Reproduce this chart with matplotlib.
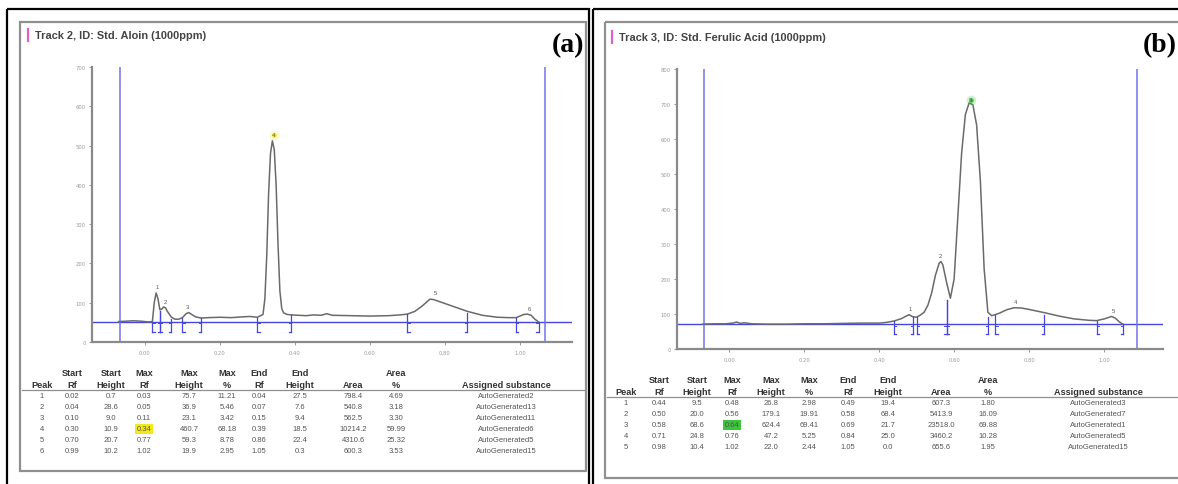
import matplotlib.pyplot as plt
from matplotlib.patches import Rectangle

W, H = 1178, 485

# ---------------- panel (a): Std. Aloin ----------------
a_title = "Track 2, ID: Std. Aloin (1000ppm)"
a_rf = [-0.07, -0.05, -0.03, -0.01, 0.00, 0.01, 0.02, 0.025, 0.03, 0.035, 0.04, 0.045,
        0.05, 0.055, 0.06, 0.07, 0.08, 0.09, 0.10, 0.11, 0.117, 0.125, 0.135, 0.15, 0.17,
        0.20, 0.23, 0.26, 0.28, 0.30, 0.315, 0.32, 0.325, 0.33, 0.335, 0.34, 0.345, 0.35,
        0.355, 0.36, 0.365, 0.37, 0.38, 0.39, 0.41, 0.43, 0.45, 0.47, 0.485, 0.50, 0.55,
        0.60, 0.65, 0.68, 0.70, 0.72, 0.74, 0.76, 0.77, 0.80, 0.83, 0.86, 0.90, 0.94,
        0.97, 0.99, 1.00, 1.01, 1.02, 1.03, 1.04, 1.05]
a_au = [52, 53, 54, 53, 52, 51, 52, 100, 125, 110, 82, 84,
        89, 87, 78, 64, 58, 58, 62, 72, 75, 70, 64, 61, 62,
        63, 62, 64, 65, 63, 70, 110, 220, 380, 480, 512, 490, 400,
        250, 130, 85, 74, 70, 69, 68, 67, 69, 68, 72, 68, 67,
        66, 67, 69, 71, 78, 92, 109, 108, 98, 88, 78, 68, 63,
        62, 62, 66, 70, 71, 68, 58, 51]
a_baseline = 51
a_peak = [1, 2, 3, 4, 5, 6]
a_start_rf = [0.02, 0.04, 0.10, 0.30, 0.70, 0.99]
a_start_h = [0.7, 28.6, 9.0, 10.9, 20.7, 10.2]
a_max_rf = [0.03, 0.05, 0.11, 0.34, 0.77, 1.02]
a_max_h = [75.7, 36.9, 23.1, 460.7, 59.3, 19.9]
a_max_pct = [11.21, 5.46, 3.42, 68.18, 8.78, 2.95]
a_end_rf = [0.04, 0.07, 0.15, 0.39, 0.86, 1.05]
a_end_h = [27.5, 7.6, 9.4, 18.5, 22.4, 0.3]
a_area = [798.4, 540.8, 562.5, 10214.2, 4310.6, 600.3]
a_area_pct = [4.69, 3.18, 3.30, 59.99, 25.32, 3.53]
a_subst = ["AutoGenerated2", "AutoGenerated13", "AutoGenerated11",
           "AutoGenerated6", "AutoGenerated5", "AutoGenerated15"]

# ---------------- panel (b): Std. Ferulic Acid ----------------
b_title = "Track 3, ID: Std. Ferulic Acid (1000ppm)"
b_rf = [-0.07, -0.04, -0.01, 0.01, 0.02, 0.03, 0.04, 0.06, 0.10, 0.15, 0.20, 0.25, 0.30,
        0.35, 0.40, 0.42, 0.44, 0.46, 0.47, 0.48, 0.49, 0.50, 0.51, 0.52, 0.53, 0.54,
        0.55, 0.56, 0.565, 0.57, 0.58, 0.59, 0.60, 0.61, 0.62, 0.63, 0.64, 0.65, 0.66,
        0.67, 0.68, 0.69, 0.70, 0.72, 0.74, 0.76, 0.78, 0.80, 0.84, 0.88, 0.92, 0.96,
        0.98, 1.00, 1.02, 1.03, 1.04, 1.05]
b_au = [71, 72, 72, 74, 77, 73, 75, 72, 71, 71, 72, 72, 73,
        74, 74, 76, 80, 87, 93, 98, 92, 91, 97, 105, 125, 160,
        210, 245, 250, 240, 190, 145, 200, 380, 560, 670, 703, 698, 640,
        480, 230, 105, 95, 102, 112, 118, 117, 113, 104, 94, 86, 82,
        81, 86, 93, 88, 78, 71]
b_baseline = 71
b_peak = [1, 2, 3, 4, 5]
b_start_rf = [0.44, 0.50, 0.58, 0.71, 0.98]
b_start_h = [9.5, 20.0, 68.6, 24.8, 10.4]
b_max_rf = [0.48, 0.56, 0.64, 0.76, 1.02]
b_max_h = [26.8, 179.1, 624.4, 47.2, 22.0]
b_max_pct = [2.98, 19.91, 69.41, 5.25, 2.44]
b_end_rf = [0.49, 0.58, 0.69, 0.84, 1.05]
b_end_h = [19.4, 68.4, 21.7, 25.0, 0.0]
b_area = [607.3, 5413.9, 23518.0, 3460.2, 655.6]
b_area_pct = [1.80, 16.09, 69.88, 10.28, 1.95]
b_subst = ["AutoGenerated3", "AutoGenerated7", "AutoGenerated1",
           "AutoGenerated5", "AutoGenerated15"]

hdr1 = ["", "Start", "Start", "Max", "Max", "Max", "End", "End", "", "Area", ""]
hdr2 = ["Peak", "Rf", "Height", "Rf", "Height", "%", "Rf", "Height", "Area", "%",
        "Assigned substance"]
xtick_vals = [0.0, 0.2, 0.4, 0.6, 0.8, 1.0]

BLUE = "#4646e0"
VBLUE = "#7373ee"
CURVE = "#6a6a6a"
GRAY = "#9a9a9a"
FONT = "Liberation Sans"

fig = plt.figure(figsize=(W / 100, H / 100), dpi=100)
bg = fig.add_axes([0, 0, 1, 1])
bg.set_xlim(0, W)
bg.set_ylim(H, 0)
bg.axis("off")

# outer black frames
for x0, x1 in [(7, 589), (593, 1190)]:
    bg.add_patch(Rectangle((x0, 10), x1 - x0, 490, fill=False, ec="black", lw=1.6))


def draw_panel(box, ax_px, xlim, ylim, ystep, vlines, title, title_xy, label, label_x,
               rf, au, base, tick_len, peak, s_rf, s_h, m_rf, m_h, m_pct, e_rf, e_h,
               area, area_pct, subst, cols, y_h1, hl_color):
    # gray panel frame
    bg.add_patch(Rectangle((box[0], box[1]), box[2] - box[0], box[3] - box[1],
                           fill=False, ec="#8f8f8f", lw=1.6))
    bg.plot([title_xy[0] - 7, title_xy[0] - 7], [title_xy[1] - 6, title_xy[1] + 6],
            color="#e060c8", lw=1.6)
    bg.text(title_xy[0], title_xy[1], title, fontsize=7.9, fontweight="bold",
            family=FONT, color="#444444", va="center", ha="left")
    bg.text(label_x, 46, label, fontsize=20, fontweight="bold",
            family="Liberation Serif", color="black", va="center", ha="right")

    l, t, r, b = ax_px
    ax = fig.add_axes([l / W, 1 - b / H, (r - l) / W, (b - t) / H])
    ax.patch.set_alpha(0)
    ax.set_xlim(*xlim)
    ax.set_ylim(*ylim)
    for side in ["top", "right"]:
        ax.spines[side].set_visible(False)
    for side in ["left", "bottom"]:
        ax.spines[side].set_color("#8a8a8a")
        ax.spines[side].set_linewidth(1.6)
    ax.set_yticks(range(0, ylim[1] + 1, ystep))
    ax.set_xticks(xtick_vals)
    ax.set_xticklabels(["%.2f" % v for v in xtick_vals])
    ax.tick_params(length=2, width=0.6, color="#8a8a8a", labelsize=3.8,
                   labelcolor=GRAY, pad=2.5)
    ax.tick_params(axis="x", pad=4)

    ax.axhline(base, color=BLUE, lw=1.0)
    for v in vlines:
        ax.axvline(v, color=VBLUE, lw=1.1)
    ax.plot(rf, au, color=CURVE, lw=1.1)

    # peak boundaries with brackets
    hook = 0.006
    for s, sh, e, eh in zip(s_rf, s_h, e_rf, e_h):
        for x, h, d in [(s, sh, hook), (e, eh, -hook)]:
            ax.plot([x, x], [base - tick_len, base + h], color=BLUE, lw=0.9)
            ax.plot([x, x + d], [base - tick_len, base - tick_len], color=BLUE, lw=0.9)
            ax.plot([x, x + d], [base - tick_len * 0.15, base - tick_len * 0.15],
                    color=BLUE, lw=0.7)
    for n, x, h in zip(peak, m_rf, m_h):
        ax.text(x + 0.004, base + h + tick_len * 0.35, str(n), fontsize=4.2,
                color="#555555", ha="center", va="bottom", family=FONT)
    top = m_pct.index(max(m_pct))
    ax.plot(m_rf[top] + 0.004, base + m_h[top] + tick_len * 0.6, "o", ms=7,
            color=hl_color, alpha=0.25, mec="none")
    ax.plot(m_rf[top] + 0.004, base + m_h[top] + tick_len * 0.6, "o", ms=3.2,
            color=hl_color, mec="none")

    # table
    for x, t1, t2 in zip(cols, hdr1, hdr2):
        bg.text(x, y_h1, t1, fontsize=6.6, color="#333333", ha="center", va="center",
                family=FONT, fontweight="semibold")
        bg.text(x, y_h1 + 11.5, t2, fontsize=6.6, color="#333333", ha="center",
                va="center", family=FONT, fontweight="semibold")
    bg.plot([box[0] + 2, box[2] - 2], [y_h1 + 17, y_h1 + 17], color="#8f8f8f", lw=0.9)
    for i in range(len(peak)):
        y = y_h1 + 23 + 11 * i
        row = [str(peak[i]), "%.2f" % s_rf[i], "%.1f" % s_h[i], "%.2f" % m_rf[i],
               "%.1f" % m_h[i], "%.2f" % m_pct[i], "%.2f" % e_rf[i], "%.1f" % e_h[i],
               "%.1f" % area[i], "%.2f" % area_pct[i], subst[i]]
        for j, (x, txt) in enumerate(zip(cols, row)):
            kw = {}
            if j == 3 and i == top:
                kw["bbox"] = dict(boxstyle="square,pad=0.15", fc=hl_color, ec="none")
            bg.text(x, y, txt, fontsize=5.5, color="#555555", ha="center", va="center",
                    family=FONT, **kw)


draw_panel(box=(20, 23, 586, 472), ax_px=(92, 68, 572, 343), xlim=(-0.141, 1.139),
           ylim=(0, 700), ystep=100, vlines=(-0.067, 1.067), title=a_title,
           title_xy=(35, 36), label="(a)", label_x=584,
           rf=a_rf, au=a_au, base=a_baseline, tick_len=26,
           peak=a_peak, s_rf=a_start_rf, s_h=a_start_h, m_rf=a_max_rf, m_h=a_max_h,
           m_pct=a_max_pct, e_rf=a_end_rf, e_h=a_end_h, area=a_area,
           area_pct=a_area_pct, subst=a_subst,
           cols=[42, 72, 111, 144, 189, 227, 259, 300, 353, 396, 506], y_h1=374,
           hl_color="#f2e81c")

draw_panel(box=(605, 23, 1190, 479), ax_px=(677, 70, 1163, 350), xlim=(-0.139, 1.157),
           ylim=(0, 800), ystep=100, vlines=(-0.067, 1.088), title=b_title,
           title_xy=(619, 38), label="(b)", label_x=1177,
           rf=b_rf, au=b_au, base=b_baseline, tick_len=29,
           peak=b_peak, s_rf=b_start_rf, s_h=b_start_h, m_rf=b_max_rf, m_h=b_max_h,
           m_pct=b_max_pct, e_rf=b_end_rf, e_h=b_end_h, area=b_area,
           area_pct=b_area_pct, subst=b_subst,
           cols=[626, 659, 697, 732, 771, 809, 848, 888, 941, 988, 1098], y_h1=381,
           hl_color="#3cc43c")

fig.savefig("out.png", dpi=100)
